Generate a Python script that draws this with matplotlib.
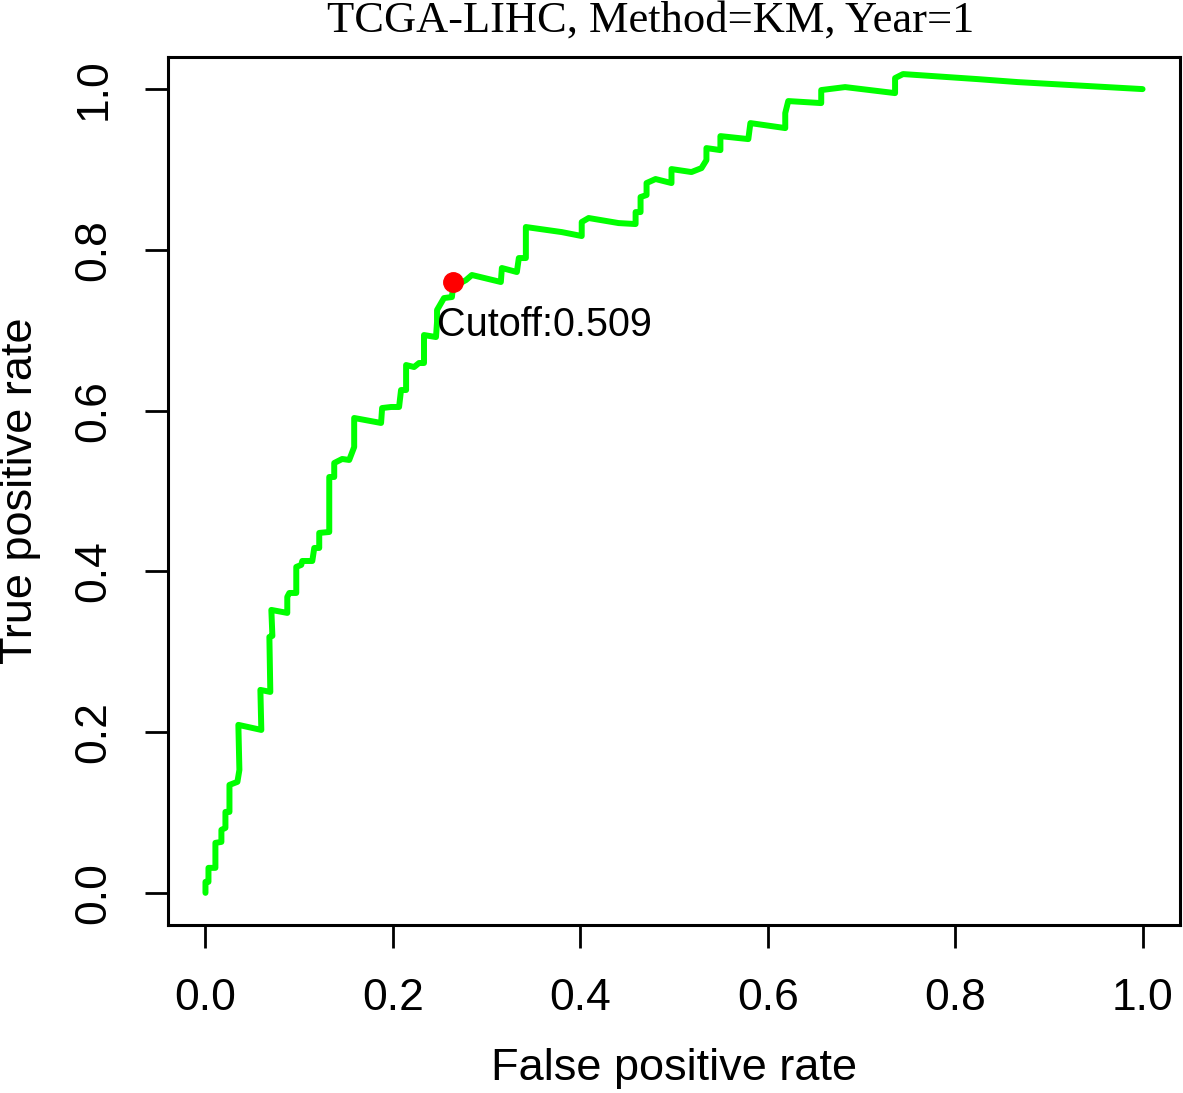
import matplotlib
matplotlib.use("Agg")
import matplotlib.pyplot as plt

# ROC curve (KM method, 1 year)
fpr = [0.0, 0.0, 0.0032, 0.0032, 0.0106, 0.0106, 0.0170, 0.0170, 0.0213, 0.0213,
       0.0256, 0.0256, 0.0341, 0.0362, 0.0351, 0.0596, 0.0586, 0.0692, 0.0682, 0.0714,
       0.0703, 0.0873, 0.0873, 0.0895, 0.0969, 0.0969, 0.1022, 0.1033, 0.1140, 0.1161,
       0.1214, 0.1214, 0.1321, 0.1321, 0.1374, 0.1374, 0.1459, 0.1534, 0.1587, 0.1587,
       0.1874, 0.1885, 0.1981, 0.2066, 0.2087, 0.2141, 0.2141, 0.2226, 0.2279, 0.2332,
       0.2332, 0.2460, 0.2471, 0.2471, 0.2545, 0.2630, 0.2641, 0.2780, 0.2843, 0.3152,
       0.3163, 0.3323, 0.3344, 0.3419, 0.3419, 0.3802, 0.4015, 0.4015, 0.4089, 0.4409,
       0.4590, 0.4590, 0.4643, 0.4643, 0.4707, 0.4707, 0.4803, 0.4973, 0.4973, 0.5186,
       0.5293, 0.5346, 0.5346, 0.5495, 0.5495, 0.5793, 0.5815, 0.6187, 0.6187, 0.6219,
       0.6571, 0.6571, 0.6826, 0.7359, 0.7359, 0.7444, 0.8243, 0.8669, 1.0]
tpr = [0.0, 0.0137, 0.0137, 0.0311, 0.0311, 0.0622, 0.0634, 0.0784, 0.0808, 0.1007,
       0.1007, 0.1343, 0.1381, 0.1530, 0.2090, 0.2027, 0.2525, 0.2500, 0.3184, 0.3197,
       0.3520, 0.3483, 0.3682, 0.3731, 0.3731, 0.4055, 0.4080, 0.4129, 0.4129, 0.4291,
       0.4291, 0.4478, 0.4490, 0.5174, 0.5174, 0.5348, 0.5398, 0.5386, 0.5547, 0.5908,
       0.5846, 0.6032, 0.6045, 0.6045, 0.6256, 0.6256, 0.6567, 0.6542, 0.6592, 0.6592,
       0.6940, 0.6915, 0.7102, 0.7251, 0.7400, 0.7413, 0.7537, 0.7624, 0.7687, 0.7600,
       0.7774, 0.7724, 0.7898, 0.7898, 0.8284, 0.8221, 0.8172, 0.8346, 0.8396, 0.8333,
       0.8321, 0.8470, 0.8470, 0.8657, 0.8682, 0.8831, 0.8881, 0.8831, 0.9005, 0.8968,
       0.9017, 0.9117, 0.9266, 0.9241, 0.9415, 0.9378, 0.9577, 0.9515, 0.9701, 0.9851,
       0.9826, 0.9988, 1.0025, 0.9950, 1.0137, 1.0187, 1.0124, 1.0087, 1.0]

cut_fpr = 0.2641
cut_tpr = 0.7600
cut_label = "Cutoff:0.509"
title = "TCGA-LIHC, Method=KM, Year=1"
ticks = [0.0, 0.2, 0.4, 0.6, 0.8, 1.0]

plt.rcParams['font.family'] = ['Liberation Sans', 'DejaVu Sans']

fig = plt.figure(figsize=(11.83, 10.93), dpi=100)
ax = fig.add_axes([0.142, 0.1537, 0.8555, 0.7942])

ax.plot(fpr, tpr, color='#00ff00', lw=4.3, solid_joinstyle='round', solid_capstyle='round')
ax.plot([cut_fpr], [cut_tpr], 'o', color='#ff0000', ms=14)
ax.text(cut_fpr - 0.017, cut_tpr - 0.054, cut_label, fontsize=28.5, ha='left', va='center')

ax.set_xlim(-0.04, 1.04)
ax.set_ylim(-0.04, 1.04)
ax.set_xticks(ticks)
ax.set_yticks(ticks)
ax.set_xticklabels(["%.1f" % t for t in ticks])
ax.set_yticklabels(["%.1f" % t for t in ticks], rotation=90, va='center')
ax.tick_params(direction='out', length=16.5, width=2, labelsize=32, pad=22)
for s in ax.spines.values():
    s.set_linewidth(2.2)

ax.set_xlabel("False positive rate", fontsize=32.5, va='center')
ax.xaxis.set_label_coords(0.5, -0.165)
ax.set_ylabel("True positive rate", fontsize=32.5, va='center')
ax.yaxis.set_label_coords(-0.146, 0.5)

fig.text(0.550, 1 - 32 / 1093, title, fontsize=32, family='Liberation Serif',
         ha='center', va='baseline')

fig.savefig("out.png", dpi=100)
